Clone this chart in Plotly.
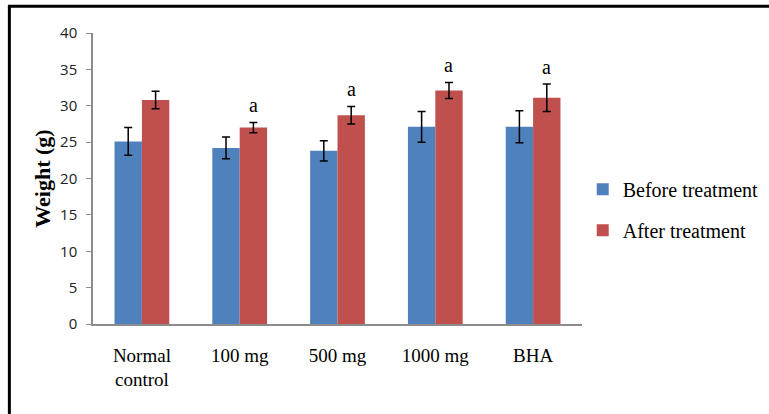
import plotly.graph_objects as go

categories = ["Normal<br>control", "100 mg", "500 mg", "1000 mg", "BHA"]
before_vals = [25.1, 24.2, 23.8, 27.1, 27.1]
before_err = [1.9, 1.5, 1.4, 2.1, 2.2]
after_vals = [30.8, 27.0, 28.7, 32.1, 31.1]
after_err = [1.2, 0.7, 1.2, 1.1, 1.9]
sig_labels = ["", "a", "a", "a", "a"]

BLUE = "#4F81BD"
RED = "#C0504D"
SERIF = "Liberation Serif, Times New Roman, serif"

fig = go.Figure()
fig.add_trace(go.Bar(
    name="Before treatment", x=categories, y=before_vals,
    marker=dict(color=BLUE, line=dict(width=0)),
    error_y=dict(type="data", array=before_err, color="black", thickness=1.5, width=4),
    legendgroup="b",
))
fig.add_trace(go.Bar(
    name="After treatment", x=categories, y=after_vals,
    marker=dict(color=RED, line=dict(width=0)),
    error_y=dict(type="data", array=after_err, color="black", thickness=1.5, width=4),
    legendgroup="a",
))

for i, lab in enumerate(sig_labels):
    if lab:
        fig.add_annotation(
            x=i + 0.14, y=after_vals[i] + after_err[i], xref="x", yref="y",
            text=lab, showarrow=False, yanchor="bottom", yshift=4,
            font=dict(family=SERIF, size=20, color="black"),
        )

# frame lines (top and left)
fig.add_shape(type="line", xref="paper", yref="paper", x0=-0.174, x1=1.4, y0=1.092, y1=1.092,
              line=dict(color="black", width=3))
fig.add_shape(type="line", xref="paper", yref="paper", x0=-0.171, x1=-0.171, y0=1.092, y1=-0.5,
              line=dict(color="black", width=3))

fig.update_layout(
    width=769, height=414,
    margin=dict(l=93, r=187, t=33, b=90, autoexpand=False),
    paper_bgcolor="white", plot_bgcolor="white",
    barmode="group", bargap=0.44, bargroupgap=0,
    showlegend=True,
    legend=dict(x=1.0015, y=0.393, xanchor="left", yanchor="middle",
                font=dict(family=SERIF, size=20, color="black"),
                tracegroupgap=12, bgcolor="rgba(0,0,0,0)"),
    xaxis=dict(showline=True, linecolor="#8C8C8C", linewidth=1.5, ticks="",
               ticklabelstandoff=13,
               tickfont=dict(family=SERIF, size=19, color="black"), showgrid=False),
    yaxis=dict(range=[0, 40], dtick=5, showline=True, linecolor="#8C8C8C", linewidth=1.5,
               ticks="outside", ticklen=5, tickcolor="#8C8C8C", showgrid=False, zeroline=False,
               ticklabelstandoff=6,
               tickfont=dict(family="Open Sans, Liberation Sans, sans-serif", size=15, color="#222"),
               title=dict(text="<b>Weight (g)</b>", font=dict(family=SERIF, size=22, color="black"),
                          standoff=3)),
)

fig.write_html("out.html", config={"displayModeBar": False},
               post_script="document.body.style.margin='0px';document.body.style.overflow='hidden';")
